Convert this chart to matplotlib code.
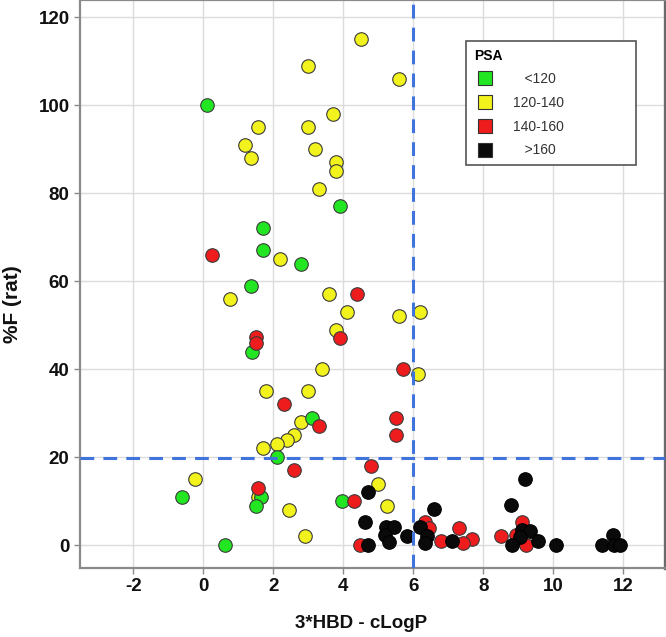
import matplotlib
matplotlib.use("Agg")
import matplotlib.pyplot as plt
from matplotlib.lines import Line2D

plt.rcParams['font.family'] = ['Liberation Sans', 'DejaVu Sans']
plt.rcParams['axes.unicode_minus'] = False

# ---- data ----
green_x = [0.1, 3.9, 1.7, 1.7, 2.8, 1.35, 1.4, 3.1, 2.1, -0.62, 1.65, 3.95, 1.5, 0.63]
green_y = [100, 77, 72, 67, 64, 59, 44, 29, 20, 11, 11, 10, 9, 0]

yellow_x = [4.5, 3.0, 5.6, 3.7, 1.55, 3.0, 1.2, 3.2, 1.35, 3.8, 3.8, 3.3, 2.2, 0.75,
            3.6, 4.1, 5.6, 6.2, 3.8, 3.4, 6.15, 1.8, 3.0, 2.8, 2.6, 2.4, 2.1, 1.7,
            -0.25, 5.0, 1.55, 5.25, 2.45, 2.9]
yellow_y = [115, 109, 106, 98, 95, 95, 91, 90, 88, 87, 85, 81, 65, 56,
            57, 53, 52, 53, 49, 40, 39, 35, 35, 28, 25, 24, 23, 22,
            15, 14, 11, 9, 8, 2]

red_x = [0.25, 4.4, 3.9, 1.5, 1.5, 5.7, 2.3, 5.5, 3.3, 5.5, 4.8, 2.6, 1.57, 4.3,
         4.48, 6.34, 6.46, 7.3, 6.79, 7.69, 7.41, 8.5, 9.1, 8.94, 9.23]
red_y = [66, 57, 47, 47.3, 46, 40, 32, 29, 27, 25, 18, 17, 13, 10,
         0, 5.3, 3.8, 4.0, 0.9, 1.4, 0.5, 2.1, 5.3, 2.3, 0]

black_x = [4.7, 6.6, 4.62, 5.22, 5.45, 6.19, 5.19, 5.81, 6.4, 5.32, 4.72, 6.34, 7.1,
           9.2, 8.8, 9.1, 9.34, 9.06, 8.82, 9.58, 10.08, 11.39, 11.71, 11.73, 11.9]
black_y = [12, 8.2, 5.2, 4.2, 4.2, 4.2, 2.3, 2.1, 2.1, 0.8, 0, 0.4, 0.9,
           15, 9.1, 3.4, 3.3, 1.9, 0, 1.0, 0, 0, 2.3, 0, 0]

groups = ['   <120', '120-140', '140-160', '   >160']
xticks = [-2, 0, 2, 4, 6, 8, 10, 12]
yticks = [0, 20, 40, 60, 80, 100, 120]
x_cut = 6
y_cut = 19.8

colors = ['#22e622', '#f2f21c', '#ee1c1c', '#0a0a0a']

fig = plt.figure(figsize=(6.66, 6.37), dpi=100)
ax = fig.add_axes([80/666, 69/637, 585/666, 568/637])

ax.set_xlim(-3.53, 13.2)
ax.set_ylim(-5.2, 123.9)
ax.set_xticks(xticks)
ax.set_yticks(yticks)
ax.grid(True, color='#dcdcdc', lw=1.0)
ax.set_axisbelow(True)

series = [(green_x, green_y), (yellow_x, yellow_y), (red_x, red_y), (black_x, black_y)]
zords = [4, 3, 5, 6]
for (xs, ys), c, z in zip(series, colors, zords):
    ec = '#3a3a3a' if c != '#0a0a0a' else '#000000'
    ax.scatter(xs, ys, s=95, c=c, edgecolors=ec, linewidths=0.8, zorder=z)

ax.axvline(x_cut, color='#3f74dd', lw=2.2, ls=(0, (4.5, 3)), zorder=8)
ax.axhline(y_cut, color='#3f74dd', lw=2.2, ls=(0, (4.5, 3)), zorder=8)

for sp in ax.spines.values():
    sp.set_color('#8a8a8a')
    sp.set_linewidth(1.6)
ax.spines['right'].set_color('#6a6a6a')
ax.spines['right'].set_linewidth(2.4)

ax.tick_params(axis='both', colors='#8a8a8a', length=4, width=1, labelcolor='#111111',
               labelsize=13.5)
for lab in ax.get_xticklabels() + ax.get_yticklabels():
    lab.set_fontweight('bold')

ax.set_xlabel('3*HBD - cLogP', fontsize=13.5, fontweight='bold', color='#111111')
ax.set_ylabel('%F (rat)', fontsize=15, fontweight='bold', color='#111111')
ax.xaxis.set_label_coords(0.48, -0.083)
ax.yaxis.set_label_coords(-0.099, 0.465)

handles = [Line2D([], [], marker='s', ls='none', markersize=10, markerfacecolor=c,
                  markeredgecolor='#333333', markeredgewidth=0.8) for c in colors]
leg = ax.legend(handles, groups, title='PSA', loc='upper left',
                bbox_to_anchor=(0.66, 0.708, 0.29, 0.22), mode='expand',
                fontsize=10, title_fontsize=10,
                frameon=True, fancybox=False, labelspacing=0.7, handletextpad=1.2,
                borderpad=0.55, alignment='left', borderaxespad=0,
                handlelength=1.6)
leg.get_title().set_fontweight('bold')
leg.get_frame().set_edgecolor('#555555')
leg.get_frame().set_linewidth(1.2)
leg.get_frame().set_alpha(1)
for t in leg.get_texts():
    t.set_color('#333333')
leg.set_zorder(10)

fig.savefig('out.png', dpi=100)
